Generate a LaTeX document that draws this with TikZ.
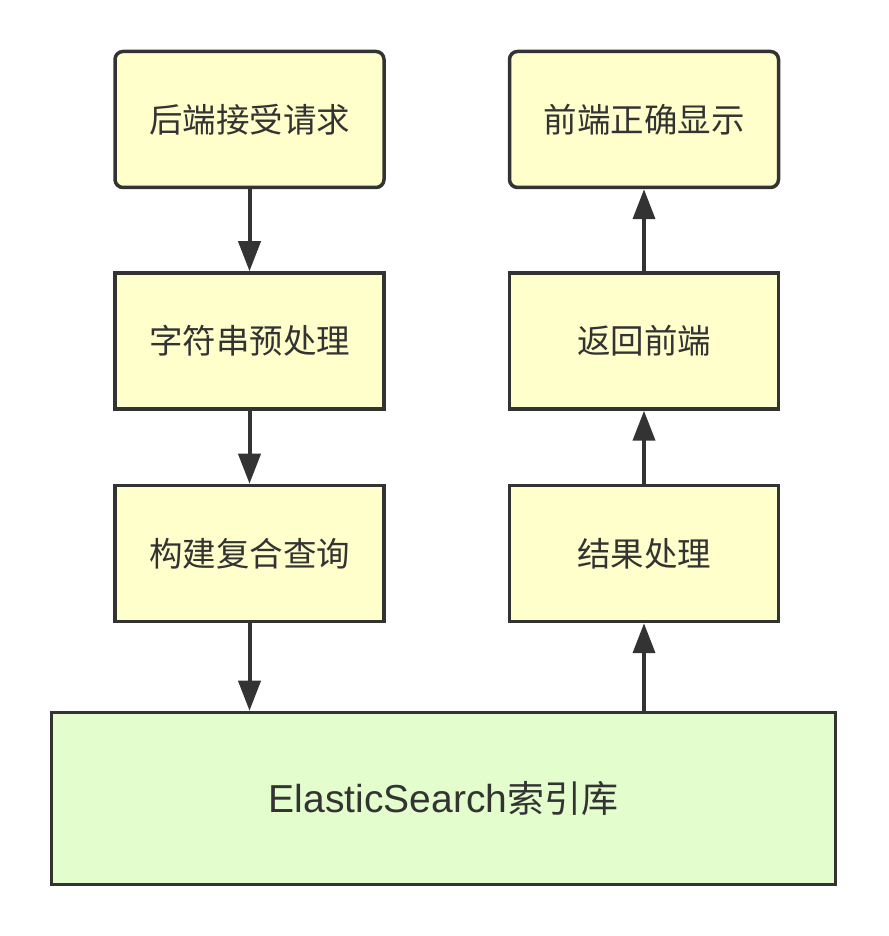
\documentclass[tikz,border=0pt]{standalone}
\usepackage{fontspec}
\setmainfont{Noto Sans CJK SC}
\newfontfamily\latinfont{Liberation Sans}
\usepackage{xcolor}
\usepackage{tikz}
\usetikzlibrary{arrows.meta, positioning}
\definecolor{edgegray}{HTML}{333333}
\definecolor{stepyellow}{HTML}{FFFFCC}
\definecolor{esgreen}{HTML}{E3FDCC}

\begin{document}
\begin{tikzpicture}[x=1pt, y=1pt, >={Triangle[length=30pt, width=22pt]},
                    line width=4pt, draw=edgegray]
\tikzstyle{every node}=[font=\fontsize{33.5}{40}\selectfont, text=edgegray]
\tikzstyle{stepbox}=[shape=rectangle, draw=edgegray, fill=stepyellow,
                    line width=3.5pt, minimum width=269pt, minimum height=136pt]
\tikzstyle{topbox}=[stepbox, rounded corners=8pt]
\useasboundingbox (0,0) rectangle (888,936);
  \node[topbox]  (recv)  at (249.5,816.5) {后端接受请求};
  \node[stepbox] (prep)  at (249.5,595)   {字符串预处理};
  \node[stepbox] (query) at (249.5,382.5) {构建复合查询};
  \node[topbox]  (show)  at (644,816.5)   {前端正确显示};
  \node[stepbox] (back)  at (644,595)     {返回前端};
  \node[stepbox] (res)   at (644,382.5)   {结果处理};
  \node[stepbox, fill=esgreen, minimum width=784pt, minimum height=172pt,
        font=\fontsize{37}{44}\selectfont]
                 (es)    at (443.5,137.5) {{\latinfont\fontsize{39}{44}\selectfont ElasticSearch}索引库};
  \draw[->, edgegray] (recv) -- (prep);
  \draw[->, edgegray] (prep) -- (query);
  \draw[->, edgegray] (query) -- (query.south |- es.north);
  \draw[->, edgegray] (res.south |- es.north) -- (res);
  \draw[->, edgegray] (res) -- (back);
  \draw[->, edgegray] (back) -- (show);
\end{tikzpicture}
\end{document}
